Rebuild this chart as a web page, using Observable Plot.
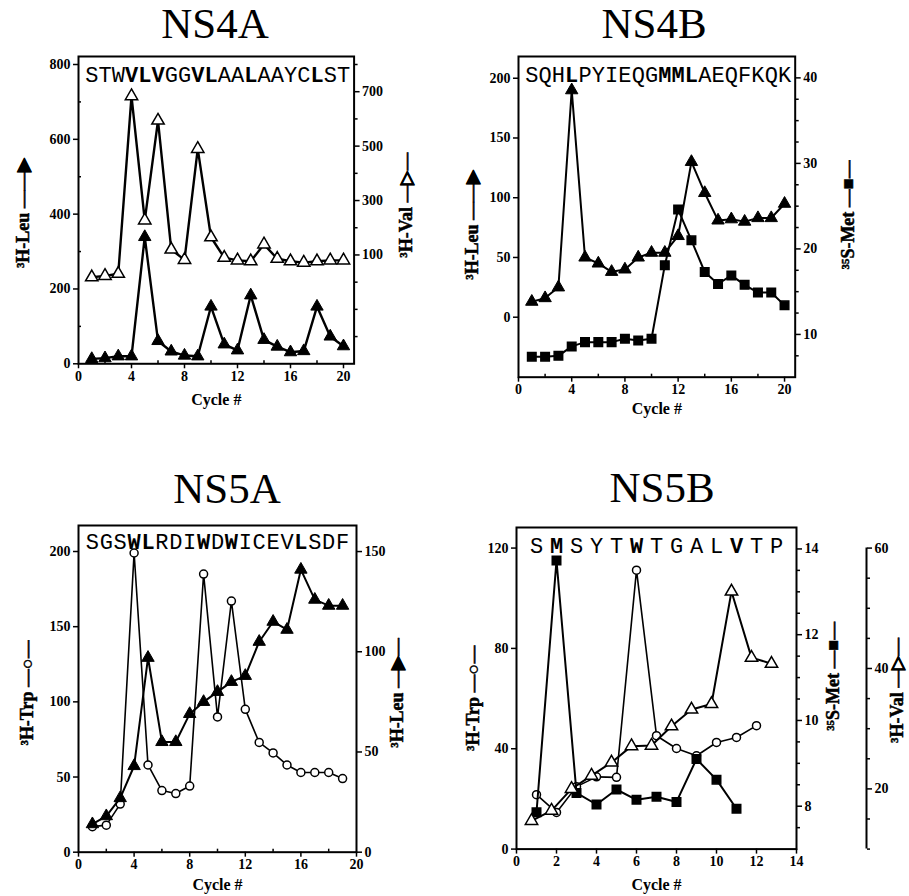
<!DOCTYPE html>
<html><head><meta charset="utf-8">
<script src="https://cdn.jsdelivr.net/npm/d3@7"></script>
<script src="https://cdn.jsdelivr.net/npm/@observablehq/plot@0.6"></script>
<style>
body{margin:0;background:#fff;overflow:hidden}
#root{position:relative;width:909px;height:896px;background:#fff;overflow:hidden}
.title{position:absolute;font-family:"Liberation Serif",serif;font-size:43px;line-height:48px;transform:translateX(-50%);white-space:nowrap;color:#000}
</style></head><body><div id="root"></div>
<script>
// ---------------- DATA ----------------
const ns4aCycle = [1,2,3,4,5,6,7,8,9,10,11,12,13,14,15,16,17,18,19,20];
const ns4aLeu = [13,15,20,20,339,61,33,22,20,153,52,36,183,64,46,31,34,153,73,47];
const ns4aVal = [18,23,31,684,227,594,120,82,490,165,90,80,77,139,86,77,72,77,80,80];
const ns4aSeq = "STWVLVGGVLAALAAYCLST";
const ns4aBold = [4,5,6,9,10,13,18];

const ns4bCycle = [1,2,3,4,5,6,7,8,9,10,11,12,13,14,15,16,17,18,19,20];
const ns4bLeu = [13,16,25,190,50,45,38,40,50,54,54,68,130,104,81,82,80,83,83,95];
const ns4bMet = [7.4,7.4,7.5,8.6,9.1,9.1,9.1,9.5,9.3,9.5,18.1,24.6,21.0,17.3,15.9,16.9,15.8,14.9,14.9,13.4];
const ns4bSeq = "SQHLPYIEQGMMLAEQFKQK";
const ns4bBold = [4,11,12,13];

const ns5aCycle = [1,2,3,4,5,6,7,8,9,10,11,12,13,14,15,16,17,18,19];
const ns5aTrp = [17,18,32,199,58,41,39,44,185,90,167,95,73,66,58,53,53,53,49];
const ns5aLeu = [14,18,27,43,97,55,55,69,75,80,85,88,105,115,111,141,126,123,123];
const ns5aSeq = "SGSWLRDIWDWICEVLSDF";
const ns5aBold = [4,5,9,11,16];

const ns5bTrpCycle = [1,2,3,4,5,6,7,8,9,10,11,12];
const ns5bTrp = [21.7,14.6,24.9,28.8,28.6,111.2,45.2,40.1,37.2,42.5,44.5,49.2];
const ns5bMetCycle = [1,2,3,4,5,6,7,8,9,10,11];
const ns5bMet = [7.86,13.73,8.31,8.04,8.39,8.15,8.22,8.10,9.10,8.62,7.94];
const ns5bValCycle = [0.75,1.75,2.75,3.75,4.75,5.75,6.75,7.75,8.75,9.75,10.75,11.75,12.75];
const ns5bVal = [14.7,16.4,20.0,22.2,24.4,27.1,27.2,30.4,33.2,34.1,52.8,41.8,40.8];
const ns5bSeq = "SMSYTWTGALVTP";
const ns5bSeqCycle = [1,2,3,4,5,6,7,8,9,10,11,12,13];
const ns5bBold = [2,6,11];

// ---------------- HELPERS ----------------
const root = document.getElementById("root");
const FONT = "Liberation Serif";
const MONO = "Liberation Mono";
const rows = (xs, ys) => xs.map((x, i) => ({x, y: ys[i]}));

function title(text, cx, baseline) {
  const d = document.createElement("div");
  d.className = "title";
  d.textContent = text;
  d.style.left = cx + "px";
  d.style.top = (baseline - 38.5) + "px";
  root.appendChild(d);
}

function layer(frame, xDomain, yDomain, marks, xAxis = true) {
  const m = {l: 80, r: 112, t: 12, b: 50};
  const fw = frame.r - frame.l, fh = frame.b - frame.t;
  const svg = Plot.plot({
    width: m.l + fw + m.r, height: m.t + fh + m.b,
    marginLeft: m.l, marginRight: m.r, marginTop: m.t, marginBottom: m.b,
    x: xAxis ? {domain: xDomain} : {domain: xDomain, axis: null},
    y: {domain: yDomain},
    style: {background: "transparent", fontFamily: FONT, overflow: "visible", color: "black"},
    marks
  });
  svg.style.position = "absolute";
  svg.style.left = (frame.l - m.l) + "px";
  svg.style.top = (frame.t - m.t) + "px";
  root.appendChild(svg);
}

const tickTxt = {fontSize: 14, fontWeight: "bold", fontFamily: FONT, strokeWidth: 1.5, label: null};
const blank = () => "";

function xAxes(major, minor) {
  return [
    Plot.axisX({...tickTxt, ticks: major, tickSize: 5, tickPadding: 2, tickFormat: d => d}),
    minor ? Plot.axisX({...tickTxt, ticks: minor, tickSize: -3, tickFormat: blank}) : null
  ];
}
function sideLabel(text, anchor, dx, dy = 0) {
  return Plot.text([text], {text: d => d, frameAnchor: anchor, textAnchor: "middle", lineAnchor: "middle",
    dx, dy, rotate: -90, fontSize: 18, fontWeight: "bold", fontFamily: FONT,
    fill: "black", stroke: "black", strokeWidth: 0.5});
}
function cycleLabel(dy) {
  return Plot.text(["Cycle #"], {text: d => d, frameAnchor: "bottom", dy,
    fontSize: 16, fontWeight: "bold", fontFamily: FONT});
}
function seqMarks(seq, bold, positions, dy) {
  const letters = seq.split("").map((c, i) => ({x: positions[i], c, b: bold.includes(i + 1)}));
  const o = {x: "x", text: "c", frameAnchor: "top", lineAnchor: "top", dy, fontSize: 22, fontFamily: MONO};
  return [
    Plot.text(letters.filter(d => !d.b), o),
    Plot.text(letters.filter(d => d.b), {...o, fontWeight: "bold"})
  ];
}
const filledTri = {x: "x", y: "y", symbol: "triangle", r: 4.6, fill: "black", stroke: "black", strokeWidth: 1};
const openTri = {x: "x", y: "y", symbol: "triangle", r: 4.6, fill: "white", stroke: "black", strokeWidth: 1.5};
const openCirc = {x: "x", y: "y", symbol: "circle", r: 4, fill: "white", stroke: "black", strokeWidth: 1.5};
const filledSq = {x: "x", y: "y", symbol: "square", r: 4.8, fill: "black", stroke: "black"};
const ln = {x: "x", y: "y", stroke: "black", strokeWidth: 2};

// ---------------- NS4A ----------------
title("NS4A", 215, 38.5);
const f1 = {l: 77.7, r: 353.3, t: 56, b: 363.3};
layer(f1, [0, 20.8], [0, 821.4], [
  Plot.frame({strokeWidth: 2}),
  ...xAxes([0,4,8,12,16,20], [2,6,10,14,18]),
  Plot.axisY({...tickTxt, ticks: [0,200,400,600,800], tickSize: 5, tickPadding: 3, tickFormat: d => d}),
  Plot.axisY({...tickTxt, ticks: [100,300,500,700], tickSize: -3, tickFormat: blank}),
  ...seqMarks(ns4aSeq, ns4aBold, ns4aCycle, 10),
  Plot.line(rows(ns4aCycle, ns4aLeu), {...ln, strokeWidth: 2.4}),
  Plot.dot(rows(ns4aCycle, ns4aLeu), filledTri),
  cycleLabel(41),
  sideLabel("³H-Leu ——▶", "left", -55, 3)
]);
layer(f1, [0, 20.8], [-300, 829.4], [
  Plot.axisY({...tickTxt, anchor: "right", ticks: [100,300,500,700], tickSize: 5, tickPadding: 3, tickFormat: d => d}),
  Plot.axisY({...tickTxt, anchor: "right", ticks: [-200,-100,0,200,400,600,800], tickSize: 3, tickFormat: blank}),
  Plot.line(rows(ns4aCycle, ns4aVal), {...ln, strokeWidth: 2.4}),
  Plot.dot(rows(ns4aCycle, ns4aVal), openTri),
  sideLabel("³H-Val —▷—", "right", 52, -5)
], false);

// ---------------- NS4B ----------------
title("NS4B", 654, 38.5);
const f2 = {l: 518.3, r: 795, t: 56, b: 376.7};
layer(f2, [0, 20.8], [-50.2, 218.2], [
  Plot.frame({strokeWidth: 2}),
  ...xAxes([0,4,8,12,16,20], [2,6,10,14,18]),
  Plot.axisY({...tickTxt, ticks: [0,50,100,150,200], tickSize: 5, tickPadding: 3, tickFormat: d => d}),
  ...seqMarks(ns4bSeq, ns4bBold, ns4bCycle, 9.5),
  Plot.line(rows(ns4bCycle, ns4bLeu), ln),
  Plot.dot(rows(ns4bCycle, ns4bLeu), filledTri),
  cycleLabel(37),
  sideLabel("³H-Leu ——▶", "left", -46, 8)
]);
layer(f2, [0, 20.8], [5, 42.5], [
  Plot.axisY({...tickTxt, anchor: "right", ticks: [10,20,30,40], tickSize: 5, tickPadding: 3, tickFormat: d => d}),
  Plot.axisY({...tickTxt, anchor: "right", ticks: [7.5,12.5,15,17.5,22.5,25,27.5,32.5,35,37.5], tickSize: 3, tickFormat: blank}),
  Plot.line(rows(ns4bCycle, ns4bMet), ln),
  Plot.dot(rows(ns4bCycle, ns4bMet), filledSq),
  sideLabel("³⁵S-Met —■—", "right", 53, -2)
], false);

// ---------------- NS5A ----------------
title("NS5A", 227, 503);
const f3 = {l: 78, r: 356, t: 525, b: 851.7};
layer(f3, [0, 20], [0, 217.3], [
  Plot.frame({strokeWidth: 2}),
  ...xAxes([0,4,8,12,16,20], [2,6,10,14,18]),
  Plot.axisY({...tickTxt, ticks: [0,50,100,150,200], tickSize: 5, tickPadding: 3, tickFormat: d => d}),
  ...seqMarks(ns5aSeq, ns5aBold, ns5aCycle, 7.5),
  Plot.line(rows(ns5aCycle, ns5aTrp), {...ln, strokeWidth: 1.6}),
  Plot.dot(rows(ns5aCycle, ns5aTrp), openCirc),
  cycleLabel(38),
  sideLabel("³H-Trp —○—", "left", -51, 4)
]);
layer(f3, [0, 20], [0, 163], [
  Plot.axisY({...tickTxt, anchor: "right", ticks: [0,50,100,150], tickSize: 5, tickPadding: 3, tickFormat: d => d}),
  Plot.line(rows(ns5aCycle, ns5aLeu), ln),
  Plot.dot(rows(ns5aCycle, ns5aLeu), filledTri),
  sideLabel("³H-Leu —▶—", "right", 41, 4)
], false);

// ---------------- NS5B ----------------
title("NS5B", 662, 502);
const f4 = {l: 516, r: 796, t: 526.7, b: 848.3};
layer(f4, [0, 14], [0, 128.2], [
  Plot.frame({strokeWidth: 2}),
  ...xAxes([0,2,4,6,8,10,12,14], null),
  Plot.axisY({...tickTxt, ticks: [0,40,80,120], tickSize: 5, tickPadding: 3, tickFormat: d => d}),
  ...seqMarks(ns5bSeq, ns5bBold, ns5bSeqCycle, 10),
  Plot.line(rows(ns5bTrpCycle, ns5bTrp), {...ln, strokeWidth: 1.6}),
  Plot.dot(rows(ns5bTrpCycle, ns5bTrp), openCirc),
  cycleLabel(41),
  sideLabel("³H-Trp —○—", "left", -43, 10)
]);
layer(f4, [0, 14], [7, 14.5], [
  Plot.axisY({...tickTxt, anchor: "right", ticks: [8,10,12,14], tickSize: 5, tickPadding: 3, tickFormat: d => d}),
  Plot.axisY({...tickTxt, anchor: "right", ticks: [7.5,8.5,9,9.5,10.5,11,11.5,12.5,13,13.5], tickSize: 3, tickFormat: blank}),
  Plot.line(rows(ns5bMetCycle, ns5bMet), ln),
  Plot.dot(rows(ns5bMetCycle, ns5bMet), filledSq),
  sideLabel("³⁵S-Met —■—", "right", 37, -12)
], false);
layer(f4, [0, 14], [10, 63.42], [
  Plot.ruleX([14], {dx: 70, y1: 10, y2: 60, strokeWidth: 2}),
  Plot.axisY({...tickTxt, anchor: "right", dx: 70, ticks: [20,40,60], tickSize: 5, tickPadding: 3, tickFormat: d => d}),
  Plot.axisY({...tickTxt, anchor: "right", dx: 70, ticks: [10,15,25,30,35,45,50,55], tickSize: 3, tickFormat: blank}),
  Plot.line(rows(ns5bValCycle, ns5bVal), ln),
  Plot.dot(rows(ns5bValCycle, ns5bVal), openTri),
  sideLabel("³H-Val —▷—", "right", 101, 2)
], false);
</script></body></html>
